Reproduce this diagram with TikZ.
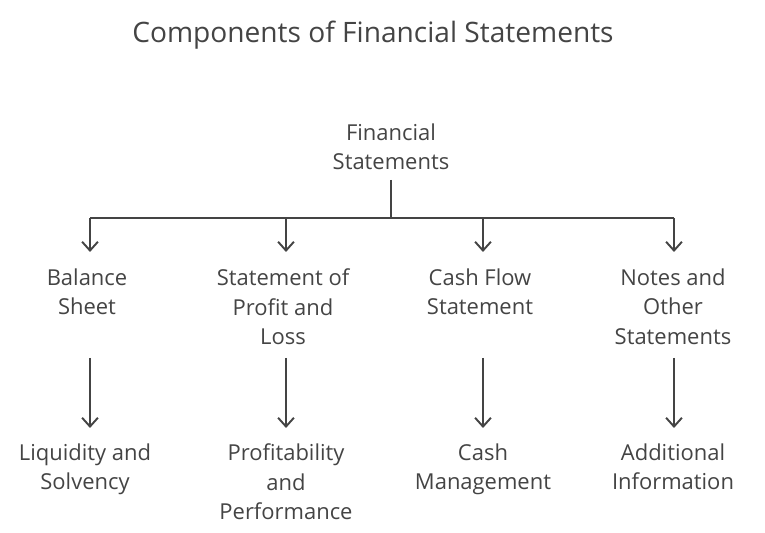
\documentclass[tikz,border=0pt]{standalone}
\usepackage{fontspec}
\setmainfont{Open Sans}
\usetikzlibrary{arrows.meta}
\definecolor{ink}{HTML}{444444}
\tikzset{
  lbl/.style={anchor=north,align=center,inner sep=0pt,text=ink,
    font=\fontsize{12.5}{17}\selectfont},
  link/.style={draw=ink,line width=1.1pt},
  arr/.style={link,-{Straight Barb[length=5pt,width=9pt,line width=1.1pt]}}
}
\begin{document}
\begin{tikzpicture}[x=0.02cm,y=-0.02cm]
    \useasboundingbox (0,0) rectangle (765,533);
    % Title
    \node[text=ink,font=\fontsize{16}{19}\selectfont] (title) at (373,35) {Components of Financial Statements};

    % Root
    \node[lbl] (root) at (391,123) {Financial\\Statements};
    \coordinate (stem) at (391,180);
    \coordinate (bus) at (391,218);

    % Categories
    \node[lbl] (bs) at (87,268) {Balance\\Sheet};
    \node[lbl] (pl) at (283,268) {Statement of\\Profit and\\Loss};
    \node[lbl] (cf) at (480,268) {Cash Flow\\Statement};
    \node[lbl] (ns) at (673,268) {Notes and\\Other\\Statements};

    % Outcomes
    \node[lbl] (lq) at (85,443) {Liquidity and\\Solvency};
    \node[lbl] (pf) at (286,443) {Profitability\\and\\Performance};
    \node[lbl] (cm) at (483,443) {Cash\\Management};
    \node[lbl] (ai) at (673,443) {Additional\\Information};

    % Connections
    \draw[link] (stem) -- (bus);
    \draw[link] (90,218) -- (674,218);
    \foreach \n/\x in {bs/90,pl/286,cf/483,ns/674}
        \draw[arr] (\x,218) -- (\x,252);
    \foreach \a/\b/\x in {bs/lq/90,pl/pf/286,cf/cm/483,ns/ai/674}
        \draw[arr] (\x,358) -- (\x,428);
\end{tikzpicture}
\end{document}
